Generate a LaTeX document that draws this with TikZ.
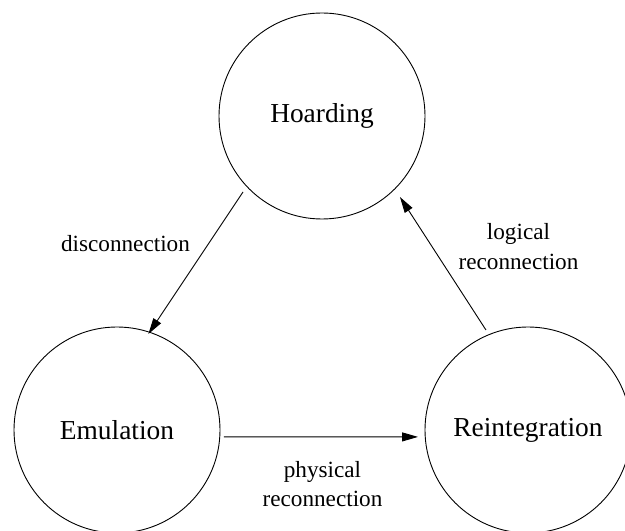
\documentclass[tikz,border=0pt]{standalone}
\usepackage{fontspec}
\setmainfont{Liberation Serif}
\usetikzlibrary{arrows.meta,calc}
\begin{document}
\begin{tikzpicture}[x=1pt,y=1pt,
  state/.style={draw, circle, line width=0.9pt, minimum size=206pt, inner sep=0pt,
    font=\fontsize{27.4}{33}\selectfont},
  lbl/.style={anchor=base, inner sep=0pt, font=\fontsize{23.2}{29}\selectfont},
  trans/.style={-{Triangle[length=16pt,width=9pt]}, line width=0.9pt}]
\useasboundingbox (0,0) rectangle (625,531);
% states
\node[state] (H) at (322,415) {Hoarding};
\node[state] (E) at (117,101) {Emulation};
\node[state] (R) at (528,101) {Reintegration};
% connector end points
\coordinate (d1) at ($(H.center)+(223.9:109.6)$);
\coordinate (d2) at ($(E.center)+(71.9:101)$);
\coordinate (p1) at ($(E.center)+(-3.7:107.2)$);
\coordinate (p2) at ($(R.center)+(183.6:110.2)$);
\coordinate (l1) at ($(R.center)+(112.8:108.5)$);
\coordinate (l2) at ($(H.center)+(-46.1:112.4)$);
% transitions
\draw[trans] (d1) -- (d2);
\draw[trans] (p1) -- (p2);
\draw[trans] (l1) -- (l2);
% labels
\node[lbl] (dl) at (125.5,279) {disconnection};
\node[lbl] (ll1) at (518.5,291) {logical};
\node[lbl] (ll2) at (518.5,261) {reconnection};
\node[lbl] (pl1) at (322.5,53) {physical};
\node[lbl] (pl2) at (322.5,24.5) {reconnection};
\end{tikzpicture}
\end{document}
